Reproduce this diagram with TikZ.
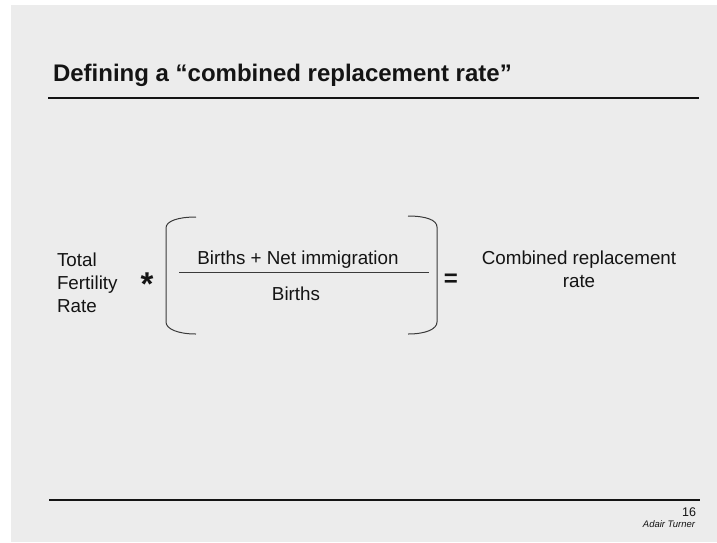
\documentclass[tikz,border=0pt]{standalone}
\usepackage{fontspec}
\setmainfont{Liberation Sans}
\definecolor{bggray}{HTML}{ECECEC}
\definecolor{ink}{HTML}{141414}
\definecolor{brk}{HTML}{3A3A3A}
\tikzset{
  txt/.style={inner sep=0pt, outer sep=0pt, text=ink, font=\fontsize{18.8}{23}\selectfont},
  rule/.style={draw=ink, line width=2.2pt},
  bracketline/.style={draw=brk, line width=1pt},
}
\begin{document}
\begin{tikzpicture}[x=1pt,y=-1pt]
\useasboundingbox (0,0) rectangle (717,542);
\fill[white] (0,0) rectangle (717,542);
\fill[bggray] (11,5) rectangle (717,542);
% title
\node[txt, anchor=base west, font=\fontsize{24}{28}\selectfont\bfseries] (title) at (53,81) {Defining a “combined replacement rate”};
\coordinate (tl1) at (48,98);
\coordinate (tl2) at (699,98);
\draw[rule] (tl1) -- (tl2);
% bottom rule
\coordinate (bl1) at (49,500);
\coordinate (bl2) at (700,500);
\draw[rule] (bl1) -- (bl2);
% footer
\node[txt, anchor=base east, font=\fontsize{12.5}{14}\selectfont] (page) at (696,516) {16};
\node[txt, anchor=base east, font=\fontsize{9.5}{11}\selectfont\itshape] (author) at (695,527) {Adair Turner};
% left term (base anchor = last line baseline)
\node[txt, anchor=base west, align=left] (tfr) at (57,312) {Total\\Fertility\\Rate};
\node[txt, anchor=center, font=\fontsize{33}{36}\selectfont\bfseries] (star) at (147,284) {*};
% brackets
\coordinate (lbt) at (196,217);
\coordinate (lbb) at (196,334);
\coordinate (rbt) at (408,216);
\coordinate (rbb) at (408,334);
\draw[bracketline] (lbt) .. controls (178,217) and (166,221) .. (166,228) -- (166,322) .. controls (166,329) and (178,334) .. (lbb);
\draw[bracketline] (rbt) .. controls (426,216) and (437,220) .. (437,227) -- (437,322) .. controls (437,329) and (426,334) .. (rbb);
% fraction
\node[txt, anchor=base] (num) at (298,264) {Births + Net immigration};
\node[txt, anchor=base] (den) at (296,300) {Births};
\coordinate (fl1) at (179,272);
\coordinate (fl2) at (429,272);
\draw[draw=brk, line width=1pt] (fl1) -- (fl2);
% equals
\node[txt, anchor=center, font=\fontsize{24}{28}\selectfont\bfseries] (eq) at (451,280) {=};
% result
\node[txt, anchor=base, align=center] (crr) at (579,287) {Combined replacement\\rate};
\end{tikzpicture}
\end{document}
